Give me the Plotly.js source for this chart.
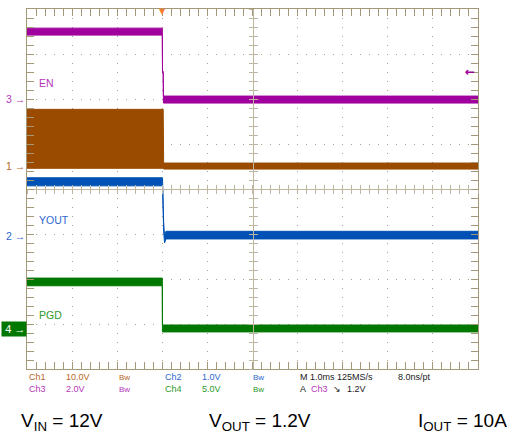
<!DOCTYPE html>
<html><head><meta charset="utf-8">
<script src="https://cdn.plot.ly/plotly-3.0.1.min.js"></script>
<style>html,body{margin:0;padding:0;background:#fff}</style>
</head><body><div id="chart" style="width:519px;height:442px"></div>
<script>
// Time in ms, trigger at t = 0 (1.0 ms/div, 10 divisions)
const swTime = [-3, 0.02, 0.03, 7];
const swMax  = [12.6, 12.6, 0.67, 0.67];
const swMin  = [-0.5, -0.5, -0.67, -0.67];

const voutTime = [-3, 0.005, 0.03, 0.05, 0.08, 7];
const voutMax  = [1.29, 1.29, 0.30, -0.02, 0.10, 0.10];
const voutMin  = [1.11, 1.11, 0.10, -0.16, -0.07, -0.07];

const enTime = [-3, 0, 0.005, 0.02, 0.025, 7];
const enMax  = [3.17, 3.17, 1.25, 1.25, 0.15, 0.15];
const enMin  = [2.86, 2.86, 1.18, 1.18, -0.16, -0.16];

const pgTime = [-3, 0, 0.003, 7];
const pgMax  = [5.65, 5.65, 0.44, 0.44];
const pgMin  = [4.80, 4.80, -0.33, -0.33];

// scope channel settings: ground position (div) and volts/div
const chNames  = ['1', '2', '3', '4'];
const chGround = [4.51, 2.96, 5.99, 0.89];
const chScale  = [10, 1, 2, 5];
const triggerTime = 0;
const triggerLevel = 1.2; // V on Ch3

const labels = ['EN', 'YOUT', 'PGD'];

const C1 = '#9a4b00', C2 = '#0051b5', C3 = '#a0009e', C4 = '#007800';
const T1 = '#b8672a', T2 = '#2d67cf', T3 = '#b437b8', T4 = '#2e9a2e';
const BORDER = '#a39878', CROSS = '#beb6a0', GRID = '#a8a192';
const FONT = 'Liberation Sans, Arial, sans-serif';

function toDiv(ch, arr) { return arr.map(v => chGround[ch] + v / chScale[ch]); }

function band(t, mx, mn, ch, color) {
  return [
    {x: t, y: toDiv(ch, mn), mode: 'lines', line: {color: color, width: 1}, hoverinfo: 'skip', showlegend: false},
    {x: t, y: toDiv(ch, mx), mode: 'lines', line: {color: color, width: 1}, fill: 'tonexty', fillcolor: color, hoverinfo: 'skip', showlegend: false}
  ];
}

const traces = [].concat(
  band(enTime, enMax, enMin, 2, C3),
  band(swTime, swMax, swMin, 0, C1),
  band(voutTime, voutMax, voutMin, 1, C2),
  band(pgTime, pgMax, pgMin, 3, C4),
  [
    {x: [], y: [], xaxis: 'x2', yaxis: 'y', showlegend: false},
    {x: [], y: [], xaxis: 'x3', yaxis: 'y', showlegend: false},
    {x: [], y: [], xaxis: 'x', yaxis: 'y2', showlegend: false},
    {x: [], y: [], xaxis: 'x', yaxis: 'y3', showlegend: false}
  ]
);

const L = 27, R = 478, T = 9, B = 369;
const PX = px => (px - L) / (R - L);
const PY = py => (B - py) / (B - T);

const mainAxis = (range) => ({
  range: range, dtick: 1, tick0: 0, showticklabels: false, zeroline: false,
  showgrid: true, gridcolor: GRID, griddash: '1px,8px', gridwidth: 1,
  showline: true, linecolor: BORDER, linewidth: 1, mirror: 'allticks',
  ticks: 'inside', ticklen: 7, tickcolor: BORDER, tickwidth: 1,
  minor: {dtick: 0.2, ticks: 'inside', ticklen: 4, tickcolor: BORDER, tickwidth: 1, showgrid: false}
});
const crossAxis = (range, ov, ticks, dt) => ({
  range: range, overlaying: ov, anchor: 'free', position: 0.5,
  dtick: dt, tick0: 0, ticks: ticks, ticklen: 4, tickcolor: CROSS, tickwidth: 1,
  showline: true, linecolor: CROSS, linewidth: 1, showgrid: false,
  zeroline: false, showticklabels: false
});

const ann = [];
function txt(x, y, text, color, size, xanchor, extra) {
  ann.push(Object.assign({xref: 'paper', yref: 'paper', x: x, y: y, text: text, showarrow: false,
    xanchor: xanchor || 'left', yanchor: 'middle', font: {family: FONT, size: size, color: color}}, extra || {}));
}

// in-plot labels
ann.push({xref: 'x', yref: 'y', x: -2.78, y: 6.36, text: labels[0], showarrow: false, xanchor: 'left', yanchor: 'middle', font: {family: FONT, size: 10.5, color: T3}});
ann.push({xref: 'x', yref: 'y', x: -2.78, y: 3.31, text: labels[1], showarrow: false, xanchor: 'left', yanchor: 'middle', font: {family: FONT, size: 10.5, color: T2}});
ann.push({xref: 'x', yref: 'y', x: -2.78, y: 1.20, text: labels[2], showarrow: false, xanchor: 'left', yanchor: 'middle', font: {family: FONT, size: 10.5, color: T4}});

// ground markers
[0, 1, 2].forEach(i => {
  ann.push({xref: 'paper', yref: 'y', x: 0, y: chGround[i], text: chNames[i] + ' \u2192', showarrow: false,
    xanchor: 'right', yanchor: 'middle', font: {family: FONT, size: 10.5, color: [T1, T2, T3][i]}});
});
ann.push({xref: 'paper', yref: 'y', x: 0, y: chGround[3], text: '\u2009' + chNames[3] + ' \u2192', showarrow: false,
  xanchor: 'right', yanchor: 'middle', bgcolor: C4, borderpad: 1, font: {family: FONT, size: 11, color: '#ffffff'}});

// trigger markers
ann.push({xref: 'x', yref: 'paper', x: triggerTime, y: 1, text: '\u25BC', showarrow: false, xanchor: 'center', yanchor: 'middle', yshift: -2,
  font: {family: 'DejaVu Sans', size: 8, color: '#f47d30'}});
ann.push({xref: 'paper', yref: 'y', x: 1, y: chGround[2] + triggerLevel / chScale[2], text: '\u2190', showarrow: false,
  xanchor: 'right', yanchor: 'middle', xshift: -1,
  font: {family: 'DejaVu Sans', size: 12, color: C3, weight: 'bold'}});

// status lines
const r1 = PY(377), r2 = PY(389);
txt(PX(27), r1, 'Ch1', T1, 9); txt(PX(64), r1, '10.0V', T1, 9); txt(PX(117), r1, 'Bw', T1, 8);
txt(PX(163), r1, 'Ch2', T2, 9); txt(PX(200), r1, '1.0V', T2, 9); txt(PX(251), r1, 'Bw', T2, 8);
txt(PX(298), r1, 'M 1.0ms 125MS/s', '#1a1a1a', 9); txt(PX(396), r1, '8.0ns/pt', '#1a1a1a', 9);
txt(PX(27), r2, 'Ch3', T3, 9); txt(PX(64), r2, '2.0V', T3, 9); txt(PX(117), r2, 'Bw', T3, 8);
txt(PX(163), r2, 'Ch4', T4, 9); txt(PX(200), r2, '5.0V', T4, 9); txt(PX(251), r2, 'Bw', T4, 8);
txt(PX(298), r2, 'A', '#1a1a1a', 9); txt(PX(309), r2, 'Ch3', T3, 9);
txt(PX(331), r2, '\u2198', '#1a1a1a', 9); txt(PX(345), r2, '1.2V', '#1a1a1a', 9);

// bottom conditions
const by = PY(422);
txt(PX(19), by, 'V<sub>IN</sub> = 12V', '#000', 19);
txt(PX(207), by, 'V<sub>OUT</sub> = 1.2V', '#000', 19);
txt(PX(416), by, 'I<sub>OUT</sub> = 10A', '#000', 19);

const layout = {
  width: 519, height: 442,
  margin: {l: L, r: 519 - R, t: T, b: 442 - B},
  paper_bgcolor: '#ffffff', plot_bgcolor: '#ffffff',
  showlegend: false,
  xaxis: mainAxis([-3, 7]),
  yaxis: mainAxis([0, 8]),
  xaxis2: crossAxis([-3, 7], 'x', 'outside', 0.2),
  xaxis3: crossAxis([-3, 7], 'x', 'inside', 0.2),
  yaxis2: crossAxis([0, 8], 'y', 'outside', 0.2),
  yaxis3: crossAxis([0, 8], 'y', 'inside', 0.2),
  annotations: ann
};

Plotly.newPlot('chart', traces, layout, {displayModeBar: false});
</script></body></html>
